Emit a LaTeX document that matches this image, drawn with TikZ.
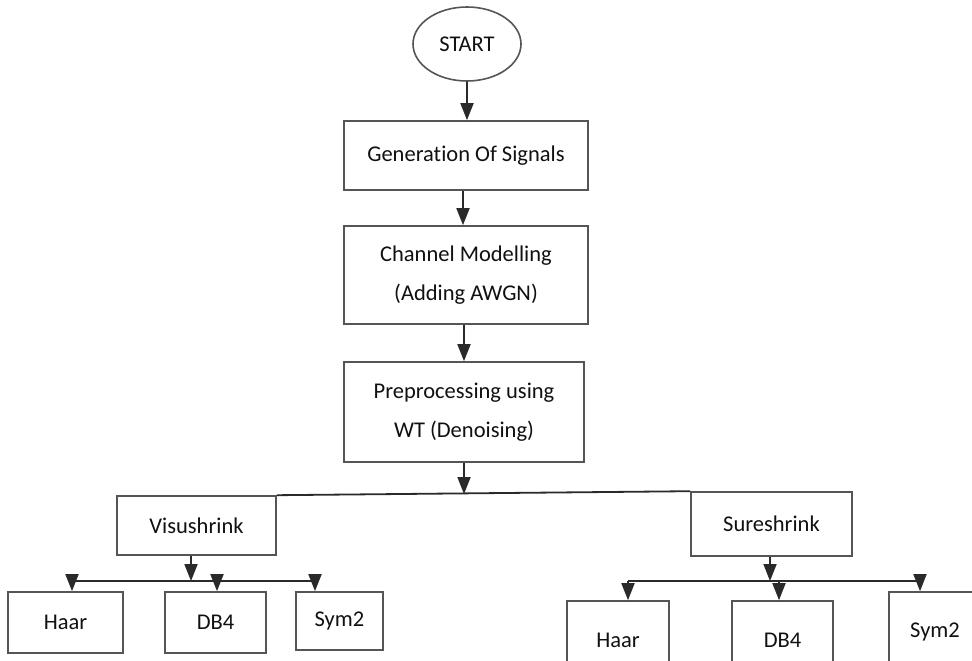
\documentclass[tikz,border=0pt]{standalone}
\usepackage{fontspec}
\setmainfont{Carlito}[Ligatures={NoCommon}]
\usetikzlibrary{arrows.meta,shapes.geometric}
\definecolor{boxgray}{HTML}{555555}
\definecolor{linegray}{HTML}{2A2A2A}
\definecolor{txt}{HTML}{111111}
\begin{document}
\begin{tikzpicture}[x=1pt,y=-1pt,
  box/.style={draw=boxgray, line width=1.6pt, fill=white, text=txt, inner sep=0pt,
    align=center, font=\fontsize{22.5}{39}\selectfont},
  conn/.style={draw=linegray, line width=1.8pt},
  arr/.style={conn, -{Triangle[length=17pt,width=13pt]}},
]
\path[use as bounding box, clip] (0,0) rectangle (972,661);
\fill[white] (0,0) rectangle (972,661);

\node[box, ellipse, minimum width=108pt, minimum height=74pt] (start) at (467,44) {START};
\node[box, minimum width=244pt, minimum height=69pt] (gen) at (466,155.5) {Generation Of Signals};
\node[box, minimum width=244pt, minimum height=98pt] (chan) at (466,275) {Channel Modelling\\(Adding AWGN)};
\node[box, minimum width=240pt, minimum height=100pt] (pre) at (464,412) {Preprocessing using\\WT (Denoising)};
\node[box, minimum width=159pt, minimum height=59pt] (visu) at (196.5,525.5) {Visushrink};
\node[box, minimum width=161pt, minimum height=64pt] (sure) at (771.5,524) {Sureshrink};
\node[box, minimum width=115pt, minimum height=61pt] (lhaar) at (65.5,622.5) {Haar};
\node[box, minimum width=101pt, minimum height=61pt] (ldb) at (215.5,622.5) {DB4};
\node[box, minimum width=87pt, minimum height=58pt] (lsym) at (339.5,621) {Sym2};
\node[box, minimum width=102pt, minimum height=78pt] (rhaar) at (618,640) {Haar};
\node[box, minimum width=101pt, minimum height=78pt] (rdb) at (782.5,640) {DB4};
\node[box, minimum width=92pt, minimum height=80pt] (rsym) at (935,632) {Sym2};

% main chain
\draw[arr] (start.south) -- (start.south |- gen.north);
\draw[arr] ([xshift=-3pt]gen.south) -- ([xshift=-3pt]chan.north);
\draw[arr] ([xshift=-2pt]chan.south) -- ([xshift=-2pt]chan.south |- pre.north);
\draw[conn] (visu.north east) -- (sure.north west);
\coordinate (bus) at (464,494);
\draw[arr] (pre.south) -- (bus);

% left branch
\coordinate (lb) at (191,581);
\coordinate (lbl) at (72,581);
\coordinate (lbm) at (217,581);
\coordinate (lbr) at (315,581);
\draw[arr] (visu.south -| lb) -- (lb);
\draw[conn] (lbl) -- (lbr);
\draw[arr] (lbl) -- (lbl |- lhaar.north);
\draw[arr] (lbm) -- (lbm |- ldb.north);
\draw[arr] (lbr) -- (lbr |- lsym.north);

% right branch
\coordinate (rb) at (770,581);
\coordinate (rbl) at (628,581);
\coordinate (rbm) at (779,581);
\coordinate (rbr) at (920,581);
\draw[arr] (sure.south -| rb) -- (rb);
\draw[conn] (rbl) -- (rbr);
\draw[arr] (rbl) -- (rbl |- rhaar.north);
\draw[arr] (rbm) -- (rbm |- rdb.north);
\draw[arr] (rbr) -- (rbr |- rsym.north);
\end{tikzpicture}
\end{document}
